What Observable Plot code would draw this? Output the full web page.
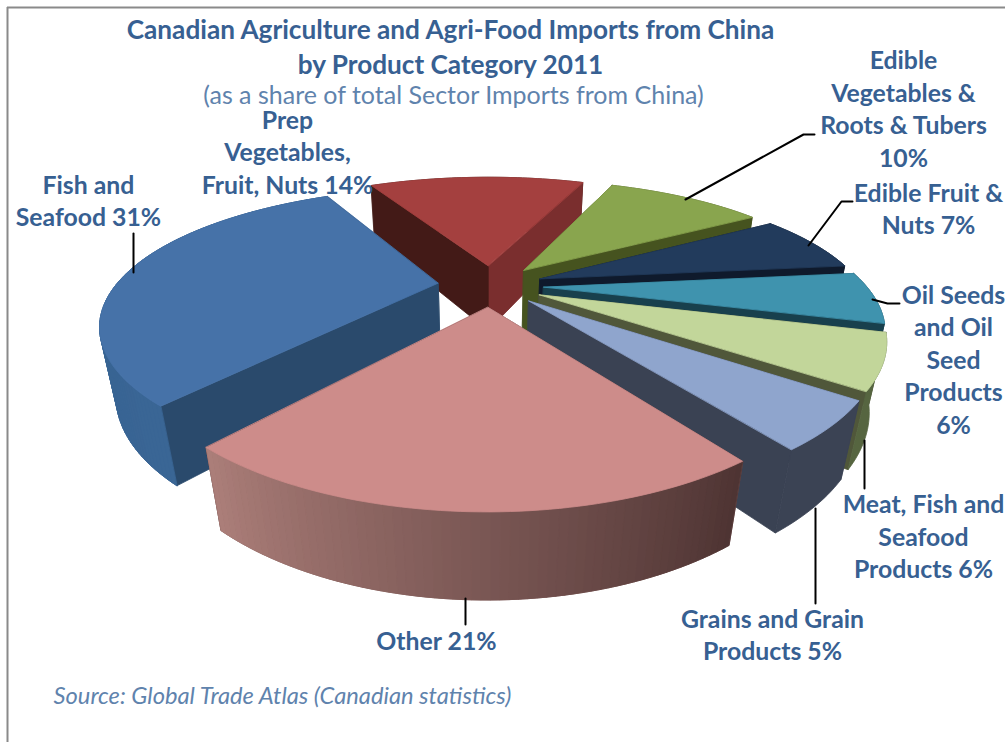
<!DOCTYPE html>
<html>
<head>
<meta charset="utf-8">
<script src="https://cdn.jsdelivr.net/npm/d3@7"></script>
<script src="https://cdn.jsdelivr.net/npm/@observablehq/plot@0.6"></script>
<style>
  html, body { margin: 0; padding: 0; background: #fff; }
  svg { display: block; }
</style>
</head>
<body>
<div id="chart"></div>
<script>
// Imports from China by product category, 2011 (share of sector imports, %).
const categories = [
  "Prep Vegetables, Fruit, Nuts",
  "Edible Vegetables & Roots & Tubers",
  "Edible Fruit & Nuts",
  "Oil Seeds and Oil Seed Products",
  "Meat, Fish and Seafood Products",
  "Grains and Grain Products",
  "Other",
  "Fish and Seafood"
];
const shares = [14, 10, 7, 6, 6, 5, 21, 31];
const labelLines = [
  "Prep\nVegetables,\nFruit, Nuts 14%",
  "Edible\nVegetables &\nRoots & Tubers\n10%",
  "Edible Fruit &\nNuts 7%",
  "Oil Seeds\nand Oil\nSeed\nProducts\n6%",
  "Meat, Fish and\nSeafood\nProducts 6%",
  "Grains and Grain\nProducts 5%",
  "Other 21%",
  "Fish and\nSeafood 31%"
];

// Face colours per slice: top, radial walls, rim at its two ends.
const topColors = ["#a4403f", "#89a54e", "#223b5c", "#3f93ae", "#c2d69a", "#8fa5cd", "#cd8c8a", "#4672a8"];
const wallColors = ["#7a2e2e", "#46531f", "#0f1a2c", "#18404d", "#50573a", "#3a4253", "#5a3d3c", "#2a4a6c"];
const rimStart = ["#431a17", "#46531f", "#0f1a2c", "#18404d", "#566540", "#3b4354", "#4e3433", "#3a6695"];
const rimEnd = ["#431a17", "#46531f", "#0f1a2c", "#18404d", "#566540", "#3b4354", "#ab7e79", "#355f8e"];
const backWall = "#431a17"; // the shaded left wall of the rear slice

// Centre of each label and the position of its leader, in chart units.
const labelAt = [[287, 150.5], [903, 107], [928, 207], [953, 358], [923, 535], [772, 633], [436, 639], [88, 199]];
const leaders = [
  [[685, 199], [803, 134], [814, 134]],
  [[808, 245], [841, 201], [852, 201]],
  [[872, 299], [887, 303], [899, 303]],
  [[864, 440], [864, 488]],
  [[815, 508], [815, 603]],
  [[465, 598], [465, 624]],
  [[133, 233], [133, 272]]
];

// Perspective view of the exploded disc.
const view = {cx: 490, cy: 285, depth: 3.3, depthX: 3.6, fx: 1160, fy: 415, explode: 0.165, radius: 1, thick: 0.1334, vx: 487, vy: 2010, start: -28};
const rad = d => d * Math.PI / 180;

function project(X, Y, lower) {
  const w = view.depth - Y;
  const x = view.cx + view.fx * X / (view.depthX - Y);
  const y = view.cy + view.fy * Y / w;
  if (!lower) return [x, y];
  const t = view.thick / (w + view.thick);
  return [x + t * (view.vx - x), y + t * (view.vy - y)];
}

const faces = [];
let cursor = view.start;
categories.forEach((name, i) => {
  const a0 = cursor;
  const a1 = cursor + shares[i] * 3.6;
  cursor = a1;
  const mid = rad((a0 + a1) / 2);
  const ox = view.explode * Math.sin(mid);
  const oy = -view.explode * Math.cos(mid);
  const ground = a => [ox + view.radius * Math.sin(rad(a)), oy - view.radius * Math.cos(rad(a))];
  const steps = Math.max(6, Math.round((a1 - a0) / 1.2));
  const angles = d3.range(steps + 1).map(k => a0 + (a1 - a0) * k / steps);
  const rim = angles.map(ground);
  const apex = [ox, oy];
  const sliceFaces = [];

  // Outer rim as one band, shaded strips added over it where the tone varies.
  const band = [...rim.map(p => project(...p)), ...rim.slice().reverse().map(p => project(...p, true))];
  const meanDepth = d3.mean(rim, p => p[1]);
  sliceFaces.push({depth: meanDepth, fill: d3.interpolateRgb(rimStart[i], rimEnd[i])(0.5), pts: band});

  // The two radial walls.
  [rim[0], rim[steps]].forEach((p, k) => {
    sliceFaces.push({
      depth: (p[1] + apex[1]) / 2,
      fill: i === 0 && k === 0 ? backWall : wallColors[i],
      pts: [project(...apex), project(...p), project(...p, true), project(...apex, true)]
    });
  });
  sliceFaces.sort((a, b) => a.depth - b.depth);

  if (rimStart[i] !== rimEnd[i]) {
    d3.pairs(rim).forEach(([p, q], k) => {
      sliceFaces.push({
        fill: d3.interpolateRgb(rimStart[i], rimEnd[i])(k / (steps - 1)),
        pts: [project(...p), project(...q), project(...q, true), project(...p, true)]
      });
    });
  }

  // Top face last.
  sliceFaces.push({fill: topColors[i], pts: [project(...apex), ...rim.map(p => project(...p))]});
  faces.push({key: oy, name, sliceFaces});
});

// Painter's order: rear slices first.
const rows = [];
faces.sort((a, b) => a.key - b.key).forEach(s => {
  s.sliceFaces.forEach((f, k) => {
    f.pts.forEach(([x, y]) => rows.push({id: `${s.name}-${k}`, x, y, fill: f.fill}));
  });
});

const labelRows = labelLines.map((text, i) => ({text, x: labelAt[i][0], y: labelAt[i][1]}));
const leaderRows = leaders.flatMap((pts, id) => pts.map(([x, y]) => ({id, x, y})));
const ink = "#376092";
const soft = "#5f83ad";
const family = "Lato, 'Open Sans', sans-serif";

const chart = Plot.plot({
  width: 1005,
  height: 742,
  margin: 0,
  style: {background: "#fff"},
  x: {domain: [0, 1005], range: [0, 1005], axis: null},
  y: {domain: [0, 742], range: [0, 742], axis: null},
  color: {type: "identity"},
  marks: [
    // Chart frame
    Plot.ruleX([7], {y1: 7, y2: 742, stroke: "#8a8a8a", strokeWidth: 2}),
    Plot.ruleY([7], {x1: 7, x2: 1005, stroke: "#8a8a8a", strokeWidth: 2}),
    Plot.line(rows, {x: "x", y: "y", z: "id", fill: "fill", stroke: "fill", strokeWidth: 0.8, curve: "linear-closed"}),
    Plot.line(leaderRows, {x: "x", y: "y", z: "id", stroke: "#000", strokeWidth: 2, curve: "linear"}),
    Plot.text(labelRows, {x: "x", y: "y", text: "text", fill: ink, fontSize: 24.8, fontWeight: 700, fontFamily: family, lineHeight: 1.31, lineAnchor: "middle"}),
    Plot.text(["Canadian Agriculture and Agri-Food Imports from China\nby Product Category 2011"], {x: [450], y: [44.5], fill: ink, fontSize: 26.2, fontWeight: 700, fontFamily: family, lineHeight: 1.34, lineAnchor: "middle"}),
    Plot.text(["(as a share of total Sector Imports from China)"], {x: [453], y: [95], fill: soft, fontSize: 25, fontFamily: family, lineAnchor: "middle"}),
    Plot.text(["Source: Global Trade Atlas (Canadian statistics)"], {x: [282], y: [696], fill: soft, fontSize: 23.7, fontStyle: "italic", fontFamily: family, lineAnchor: "middle"})
  ]
});
document.getElementById("chart").append(chart);
</script>
</body>
</html>
